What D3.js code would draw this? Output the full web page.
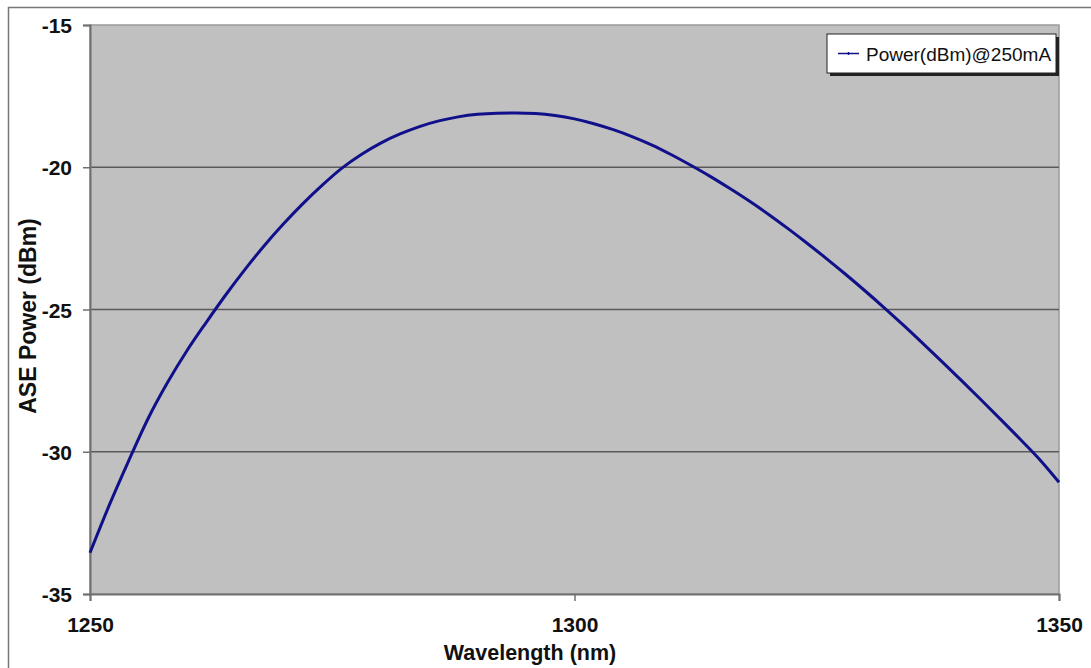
<!DOCTYPE html>
<html>
<head>
<meta charset="utf-8">
<script src="https://cdn.jsdelivr.net/npm/d3@7"></script>
<style>
  html, body { margin: 0; padding: 0; background: #ffffff; }
  svg { display: block; font-family: Arial, "Liberation Sans", sans-serif; }
</style>
</head>
<body>
<svg id="chart" width="1091" height="668"></svg>
<script>
// ASE spectrum, power vs. wavelength at 250 mA drive current
const wavelengths = [1250, 1252, 1254, 1256, 1258, 1260, 1262, 1264, 1266, 1268, 1270, 1272, 1274, 1276,
  1278, 1280, 1282, 1284, 1286, 1288, 1290, 1292, 1294, 1296, 1298, 1300, 1302, 1304, 1306, 1308,
  1310, 1312, 1314, 1316, 1318, 1320, 1322, 1324, 1326, 1328, 1330, 1332, 1334, 1336, 1338, 1340,
  1342, 1344, 1346, 1348, 1350];
const powerDbm = [-33.55, -31.87, -30.31, -28.83, -27.57, -26.45, -25.45, -24.49, -23.59, -22.75, -21.98,
  -21.27, -20.62, -20.03, -19.55, -19.15, -18.83, -18.57, -18.37, -18.23, -18.14, -18.10, -18.09,
  -18.11, -18.18, -18.30, -18.47, -18.68, -18.93, -19.22, -19.56, -19.93, -20.32, -20.74, -21.18,
  -21.65, -22.15, -22.67, -23.21, -23.77, -24.35, -24.95, -25.57, -26.21, -26.86, -27.52, -28.19,
  -28.87, -29.56, -30.27, -31.07];
const xTicks = [1250, 1300, 1350];
const yTicks = [-35, -30, -25, -20, -15];
const gridValues = [-30, -25, -20];
const seriesName = "Power(dBm)@250mA";

const svg = d3.select("#chart");

const plot = { left: 90, right: 1059, top: 25, bottom: 594 };
const x = d3.scaleLinear().domain([1250, 1350]).range([plot.left, plot.right]);
const y = d3.scaleLinear().domain([-35, -15]).range([plot.bottom, plot.top]);

// outer chart frame (continues past the right and bottom edges)
svg.append("path")
  .attr("d", "M8.5,700 L8.5,7.5 L1100,7.5")
  .attr("fill", "none").attr("stroke", "#777").attr("stroke-width", 1.5);

// plot area
svg.append("rect")
  .attr("x", plot.left).attr("y", plot.top)
  .attr("width", plot.right - plot.left).attr("height", plot.bottom - plot.top)
  .attr("fill", "#c0c0c0").attr("stroke", "#9a9a9a").attr("stroke-width", 1.5);

// horizontal gridlines
svg.append("g").selectAll("line").data(gridValues).join("line")
  .attr("x1", plot.left).attr("x2", plot.right)
  .attr("y1", d => y(d)).attr("y2", d => y(d))
  .attr("stroke", "#5a5a5a").attr("stroke-width", 1.6);

// axes (plain hyphen for negative numbers)
const fmt = d => String(d);
const yAxis = d3.axisLeft(y).tickValues(yTicks).tickSize(7).tickPadding(11).tickFormat(fmt);
const xAxis = d3.axisBottom(x).tickValues(xTicks).tickSize(7).tickPadding(16).tickFormat(fmt);

const gy = svg.append("g").attr("transform", `translate(${plot.left},0)`).call(yAxis);
const gx = svg.append("g").attr("transform", `translate(0,${plot.bottom})`).call(xAxis);

[gx, gy].forEach(g => {
  g.select(".domain").attr("stroke", "#707070").attr("stroke-width", 2);
  g.selectAll(".tick line").attr("stroke", "#707070").attr("stroke-width", 1.5);
  g.selectAll(".tick text")
    .attr("fill", "#111").attr("font-size", 21).attr("font-weight", "bold")
    .attr("font-family", "Arial, 'Liberation Sans', sans-serif");
});
gy.selectAll(".tick text").attr("dy", "0.36em");

// the spectrum curve
const line = d3.line()
  .x((d, i) => x(wavelengths[i]))
  .y(d => y(d))
  .curve(d3.curveMonotoneX);

svg.append("path")
  .datum(powerDbm)
  .attr("d", line)
  .attr("fill", "none")
  .attr("stroke", "#10108a")
  .attr("stroke-width", 3)
  .attr("stroke-linejoin", "round");

// axis titles
svg.append("text")
  .attr("x", 530).attr("y", 660)
  .attr("text-anchor", "middle")
  .attr("font-size", 21.5).attr("font-weight", "bold").attr("fill", "#111")
  .text("Wavelength (nm)");

svg.append("text")
  .attr("transform", "translate(36,316) rotate(-90)")
  .attr("text-anchor", "middle")
  .attr("font-size", 23).attr("font-weight", "bold").attr("fill", "#111")
  .text("ASE Power (dBm)");

// legend
const lg = svg.append("g").attr("transform", "translate(827,34)");
lg.append("rect").attr("x", 3).attr("y", 3).attr("width", 229).attr("height", 39).attr("fill", "#222");
lg.append("rect").attr("x", 0).attr("y", 0).attr("width", 229).attr("height", 39)
  .attr("fill", "#ffffff").attr("stroke", "#222").attr("stroke-width", 1);
lg.append("line").attr("x1", 11).attr("x2", 32).attr("y1", 19.5).attr("y2", 19.5)
  .attr("stroke", "#10108a").attr("stroke-width", 1.5);
lg.append("line").attr("x1", 21.5).attr("x2", 21.5).attr("y1", 18).attr("y2", 21)
  .attr("stroke", "#10108a").attr("stroke-width", 1.5);
lg.append("text").attr("x", 39).attr("y", 26.5)
  .attr("font-size", 19).attr("fill", "#111")
  .text(seriesName);
</script>
</body>
</html>
